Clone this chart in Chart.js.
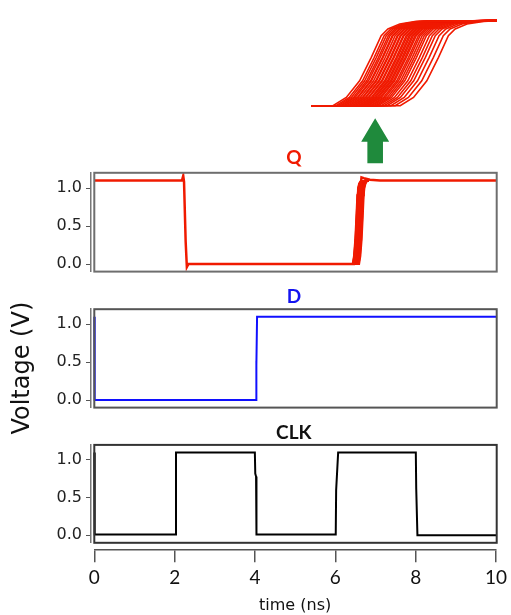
<!DOCTYPE html>
<html><head><meta charset="utf-8">
<script src="https://cdn.jsdelivr.net/npm/chart.js"></script>
<style>
body{margin:0;background:#fff}
#wrap{position:relative;width:511px;height:615px;overflow:hidden;background:#fff}
#wrap canvas{position:absolute;left:0}
</style></head><body>
<div id="wrap">
<canvas id="cvAxis" width="511" height="615" style="top:0"></canvas>
<canvas id="cvInset" width="211" height="120" style="top:0;left:300px"></canvas>
<canvas id="cvQ" width="511" height="180" style="top:110px"></canvas>
<canvas id="cvD" width="511" height="145" style="top:280px"></canvas>
<canvas id="cvC" width="511" height="145" style="top:415px"></canvas>
</div>
<script>
// ═══ DATA ═══
var xTicks=[0,2,4,6,8,10];
var yTicks=[0,0.5,1.0];
// Q output (ns, V)
var qT=[0,2.18,2.21,2.23,2.27,2.30,2.34,6.45,6.50,6.58,6.64,6.70,6.85,7.10,10];
var qV=[1.1,1.1,1.16,1.08,0.3,-0.04,0,0,0.2,0.8,1.14,1.13,1.11,1.1,1.1];
// Q rising edge, many runs: start of each edge (ns)
var riseStarts=[6.422,6.429,6.434,6.439,6.443,6.448,6.450,6.455,6.460,6.462,6.467,6.469,6.474,6.476,6.481,6.484,6.488,
  6.491,6.495,6.498,6.502,6.505,6.510,6.514,6.519,6.524,6.529,6.536,6.543,6.550,6.559,6.569,6.581];
// shape of one edge (ns after start, V)
var edgeDt=[0,0.0315,0.063,0.0906,0.114,0.130,0.158,0.197];
var edgeV=[0,0.108,0.323,0.626,0.906,0.992,1.057,1.091];
var insetWin=[6.37,6.81];
// D input
var dT=[0,0.01,4.02,4.025,4.03,4.045,10];
var dV=[1.1,0,0,0.52,0.45,1.1,1.1];
// CLK
var cT=[0,0.01,2.01,2.03,3.99,4.0,4.02,4.03,6.0,6.01,6.06,7.99,8.0,8.03,10];
var cV=[1.1,0.01,0.01,1.1,1.1,0.82,0.78,0.01,0.01,0.6,1.1,1.1,0.62,0,0];
var arrowAt=6.98;

Chart.defaults.font.family='DejaVu Sans';
Chart.defaults.color='#111';

function pts(ts,vs){return ts.map(function(t,i){return{x:t,y:vs[i]};});}
function edgeRun(t0){
  var p=[{x:insetWin[0],y:0},{x:t0,y:0}];
  edgeDt.forEach(function(dt,i){p.push({x:t0+dt,y:edgeV[i]});});
  p.push({x:insetWin[1],y:1.1});
  return p;
}
function line(data,color,w){return{data:data,borderColor:color,borderWidth:w,pointRadius:0,tension:0,fill:false};}

// frame round the plot, starts at t=0 (the y axis line sits a bit left of it)
var framePlugin={id:'frame',afterDatasetsDraw:function(ch,args,o){
  var a=ch.chartArea,x0=ch.scales.x.getPixelForValue(0),c=ch.ctx;
  c.save();c.strokeStyle=o.color||'#666';c.lineWidth=o.width||2;
  c.strokeRect(x0,a.top,a.right-x0,a.bottom-a.top);c.restore();
}};
// green arrow pointing at the zoomed edge
var arrowPlugin={id:'arrow',afterDraw:function(ch,args,o){
  if(!o.at)return;
  var x=ch.scales.x.getPixelForValue(o.at),top=ch.chartArea.top,c=ch.ctx;
  c.save();c.fillStyle='#1f8a3c';c.beginPath();
  c.moveTo(x,top-54.5);c.lineTo(x+14,top-31);c.lineTo(x+7.8,top-31);c.lineTo(x+7.8,top-9.5);
  c.lineTo(x-7.8,top-9.5);c.lineTo(x-7.8,top-31);c.lineTo(x-14,top-31);c.closePath();c.fill();c.restore();
}};

function panel(id,cfg){
  return new Chart(document.getElementById(id),{type:'line',
    data:{datasets:cfg.datasets},
    plugins:[framePlugin,arrowPlugin],
    options:{animation:false,responsive:false,
      layout:{padding:{left:0,right:14.3,top:0,bottom:cfg.pbot}},
      plugins:{legend:{display:false},tooltip:{enabled:false},
        title:{display:true,fullSize:false,text:cfg.title,color:cfg.tcolor,font:{family:'Lato',size:19,weight:'bold',lineHeight:1.2},
          padding:{top:cfg.pt,bottom:cfg.pb}},
        frame:{color:cfg.fcolor,width:2},arrow:{at:cfg.arrow}},
      scales:{
        x:{type:'linear',display:false,min:-0.082,max:10},
        y:{min:-0.1,max:1.2,
          afterBuildTicks:function(s){s.ticks=yTicks.map(function(v){return{value:v};});},
          afterFit:function(s){s.width=91;},
          ticks:{callback:function(v){return v.toFixed(1);},font:{size:16},color:'#222',padding:4},
          grid:{drawOnChartArea:false,tickLength:5,color:'#555'},
          border:{color:'#777',width:1.5}}
      }}});
}

// ═══ SHARED AXES ═══
new Chart(document.getElementById('cvAxis'),{type:'line',data:{datasets:[]},
  options:{animation:false,responsive:false,
    layout:{padding:{top:187,left:0,right:14.3,bottom:0}},
    plugins:{legend:{display:false},tooltip:{enabled:false}},
    scales:{
      x:{type:'linear',min:0,max:10,
        afterBuildTicks:function(s){s.ticks=xTicks.map(function(v){return{value:v};});},
        afterFit:function(s){s.height=65.7;},
        ticks:{font:{family:'Lato',size:19},color:'#111',padding:4},
        grid:{drawOnChartArea:false,tickLength:13,color:'#555',lineWidth:1.5},
        border:{color:'#555',width:1.5},
        title:{display:true,text:'time (ns)',font:{size:16,lineHeight:1.2},color:'#111',padding:{top:0,bottom:0}}},
      y:{min:0,max:1,afterFit:function(s){s.width=94.3;},
        ticks:{display:false},grid:{display:false},border:{display:false},
        title:{display:true,text:'Voltage (V)',font:{size:24,lineHeight:1.2},color:'#111',padding:{top:8.6,bottom:0}}}
    }}});

// ═══ INSET (zoom of Q rising edge) ═══
new Chart(document.getElementById('cvInset'),{type:'line',
  data:{datasets:riseStarts.map(function(t){return line(edgeRun(t),'#f01a00',1.6);})},
  options:{animation:false,responsive:false,
    layout:{padding:{left:11,right:14,top:16.8,bottom:10.4}},
    plugins:{legend:{display:false},tooltip:{enabled:false}},
    scales:{x:{type:'linear',display:false,min:insetWin[0],max:insetWin[1]},y:{display:false,min:-0.05,max:1.15}}}});

// ═══ PANELS ═══
panel('cvQ',{title:'Q',tcolor:'#f01a00',fcolor:'#6e6e6e',pt:36.6,pb:3.4,pbot:18.4,arrow:arrowAt,
  datasets:[line(pts(qT,qV),'#f01a00',2.5)].concat(riseStarts.map(function(t){return line(edgeRun(t),'#f01a00',2);}))});
panel('cvD',{title:'D',tcolor:'#1414f0',fcolor:'#555',pt:5.1,pb:1.3,pbot:17.4,
  datasets:[line(pts(dT,dV),'#1010ff',2)]});
panel('cvC',{title:'CLK',tcolor:'#111',fcolor:'#333',pt:6.1,pb:1.0,pbot:17.2,
  datasets:[line(pts(cT,cV),'#000',2)]});
</script>
</body></html>
